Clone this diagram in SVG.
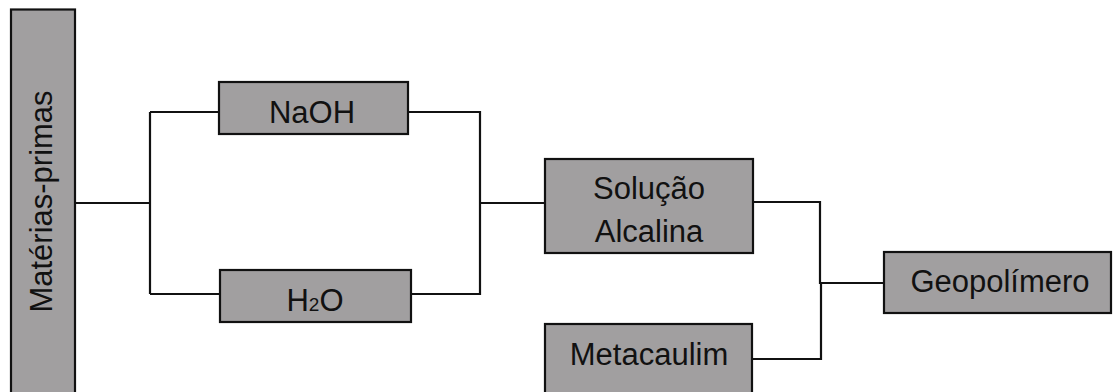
<svg xmlns="http://www.w3.org/2000/svg" width="1113" height="392" viewBox="0 0 1113 392">
  <style>
    .box { fill: #a19fa0; stroke: #111; stroke-width: 2.2; }
    .lbl { font-family: "Liberation Sans", Arial, sans-serif; font-size: 31px; fill: #111; text-anchor: middle; }
    .wire { fill: none; stroke: #111; stroke-width: 2.2; }
  </style>
  <rect width="1113" height="392" fill="#fff"/>

  <!-- connectors -->
  <g id="connectors">
    <path class="wire" d="M76,203 H150 M150,112 V294 M150,112 H219 M150,294 H220"/>
    <path class="wire" d="M408,112 H480 V294 H411 M480,203 H545"/>
    <path class="wire" d="M753,202 H820 V283 H884 M752,359 H821 V283"/>
  </g>

  <g id="materias-primas">
    <rect class="box" x="11" y="9.5" width="64" height="400"/>
    <text class="lbl" transform="translate(52,201.5) rotate(-90)">Matérias-primas</text>
  </g>

  <g id="naoh">
    <rect class="box" x="219" y="82" width="189" height="52"/>
    <text class="lbl" x="312" y="123">NaOH</text>
  </g>

  <g id="h2o">
    <rect class="box" x="220" y="270" width="191" height="52"/>
    <text class="lbl" x="315" y="311">H<tspan font-size="19">2</tspan>O</text>
  </g>

  <g id="solucao-alcalina">
    <rect class="box" x="545" y="159" width="208" height="94"/>
    <text class="lbl" x="649" y="199">Solução</text>
    <text class="lbl" x="649" y="242">Alcalina</text>
  </g>

  <g id="metacaulim">
    <rect class="box" x="545" y="324" width="207" height="90"/>
    <text class="lbl" x="649" y="365">Metacaulim</text>
  </g>

  <g id="geopolimero">
    <rect class="box" x="884" y="252" width="227" height="61"/>
    <text class="lbl" x="1000" y="292">Geopolímero</text>
  </g>
</svg>
